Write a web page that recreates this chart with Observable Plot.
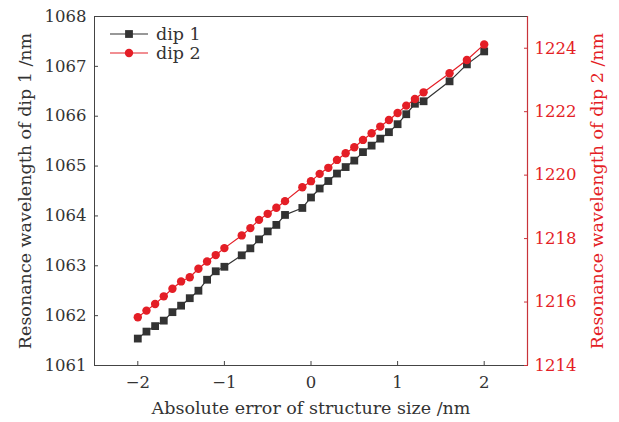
<!DOCTYPE html>
<html>
<head>
<meta charset="utf-8">
<script src="https://cdn.jsdelivr.net/npm/d3@7"></script>
<script src="https://cdn.jsdelivr.net/npm/@observablehq/plot@0.6"></script>
<style>
  html, body { margin: 0; padding: 0; background: #fff; }
  #chart { width: 619px; height: 422px; }
</style>
</head>
<body>
<div id="chart"></div>
<script>
// ---- data ----
const errorNm = [-2.0, -1.9, -1.8, -1.7, -1.6, -1.5, -1.4, -1.3, -1.2, -1.1, -1.0,
  -0.8, -0.7, -0.6, -0.5, -0.4, -0.3, -0.1, 0.0, 0.1, 0.2, 0.3, 0.4, 0.5, 0.6,
  0.7, 0.8, 0.9, 1.0, 1.1, 1.2, 1.3, 1.6, 1.8, 2.0];
const dip1 = [1061.54, 1061.68, 1061.79, 1061.90, 1062.07, 1062.20, 1062.35, 1062.50,
  1062.72, 1062.89, 1062.98, 1063.21, 1063.35, 1063.53, 1063.69, 1063.82, 1064.02,
  1064.16, 1064.37, 1064.55, 1064.70, 1064.85, 1064.98, 1065.11, 1065.28, 1065.41,
  1065.55, 1065.68, 1065.84, 1066.04, 1066.25, 1066.30, 1066.70, 1067.04, 1067.30];
const dip2 = [1215.52, 1215.73, 1215.94, 1216.18, 1216.42, 1216.65, 1216.78, 1217.05,
  1217.28, 1217.48, 1217.70, 1218.10, 1218.33, 1218.59, 1218.78, 1218.97, 1219.18,
  1219.62, 1219.81, 1220.04, 1220.23, 1220.48, 1220.69, 1220.88, 1221.11, 1221.32,
  1221.53, 1221.74, 1221.96, 1222.19, 1222.40, 1222.61, 1223.21, 1223.63, 1224.12];
const xTicks = [-2, -1, 0, 1, 2];
const leftTicks = [1061, 1062, 1063, 1064, 1065, 1066, 1067, 1068];
const rightTicks = [1214, 1216, 1218, 1220, 1222, 1224];
const seriesNames = ["dip 1", "dip 2"];
const xLabel = "Absolute error of structure size /nm";
const yLeftLabel = "Resonance wavelength of dip 1 /nm";
const yRightLabel = "Resonance wavelength of dip 2 /nm";

// ---- scales ----
const xDomain = [-2.5, 2.5];
const yDomain = [1061, 1068];
const y2Domain = [1214, 1225];
const to1 = v => yDomain[0] + (v - y2Domain[0]) * (yDomain[1] - yDomain[0]) / (y2Domain[1] - y2Domain[0]);
const to2 = v => y2Domain[0] + (v - yDomain[0]) * (y2Domain[1] - y2Domain[0]) / (yDomain[1] - yDomain[0]);

const rows1 = errorNm.map((x, i) => ({x, y: dip1[i]}));
const rows2 = errorNm.map((x, i) => ({x, y: to1(dip2[i])}));

const BLACK = "#333333";
const RED = "#e41e26";
const FONT = "DejaVu Serif";
const FS = 16.5;

const plot = Plot.plot({
  width: 619,
  height: 422,
  marginLeft: 94,
  marginRight: 92,
  marginTop: 16,
  marginBottom: 57,
  style: {fontFamily: FONT, fontSize: FS + "px", background: "#fff", color: BLACK},
  x: {domain: xDomain},
  y: {domain: yDomain},
  marks: [
    Plot.frame({stroke: "#444"}),
    Plot.ruleX([xDomain[1]], {stroke: "#c8333a", strokeWidth: 1.2}),
    Plot.axisX(xTicks, {tickSize: -4, tickPadding: 15, fontSize: FS, label: null, stroke: "#444", fill: BLACK}),
    Plot.axisY(leftTicks, {anchor: "left", tickSize: -4, tickPadding: 12, fontSize: FS, label: null,
      tickFormat: d => String(d), stroke: "#444", fill: BLACK}),
    Plot.axisY(rightTicks.map(to1), {anchor: "right", tickSize: -4, tickPadding: 11, fontSize: FS, label: null,
      tickFormat: d => String(Math.round(to2(d))), stroke: "#c8333a", fill: RED}),
    Plot.text([xLabel], {frameAnchor: "bottom", dy: 48, fontSize: FS + 1, fill: BLACK, textAnchor: "middle"}),
    Plot.text([yLeftLabel], {frameAnchor: "left", dx: -69, rotate: -90, fontSize: FS + 1, fill: BLACK, textAnchor: "middle"}),
    Plot.text([yRightLabel], {frameAnchor: "right", dx: 70, rotate: -90, fontSize: FS + 1, fill: RED, textAnchor: "middle"}),
    Plot.line(rows1, {x: "x", y: "y", stroke: BLACK, strokeWidth: 1.2}),
    Plot.dot(rows1, {x: "x", y: "y", symbol: "square", r: 4.4, fill: BLACK, stroke: "none"}),
    Plot.line(rows2, {x: "x", y: "y", stroke: RED, strokeWidth: 1.2}),
    Plot.dot(rows2, {x: "x", y: "y", symbol: "circle", r: 4.2, fill: RED, stroke: "none"})
  ]
});
document.getElementById("chart").appendChild(plot);

// ---- legend (inside the frame, top-left) ----
const svg = d3.select(plot);
const legend = svg.append("g").attr("transform", "translate(110,34)")
  .attr("font-family", FONT).attr("font-size", FS + 1).attr("text-anchor", "start");
const legendItems = [
  {name: seriesNames[0], color: BLACK, sym: d3.symbolSquare, size: 4.4 * 4.4 * Math.PI},
  {name: seriesNames[1], color: RED, sym: d3.symbolCircle, size: 4.2 * 4.2 * Math.PI}
];
legendItems.forEach((it, i) => {
  const g = legend.append("g").attr("transform", `translate(0,${i * 19})`);
  g.append("line").attr("x1", 0).attr("x2", 38).attr("y1", 0).attr("y2", 0)
    .attr("stroke", it.color).attr("stroke-width", 1.2);
  g.append("path").attr("d", d3.symbol(it.sym, it.size)()).attr("transform", "translate(19,0)")
    .attr("fill", it.color);
  g.append("text").attr("x", 46).attr("y", 0).attr("dy", "0.35em").attr("text-anchor", "start")
    .attr("fill", BLACK).text(it.name);
});
</script>
</body>
</html>
